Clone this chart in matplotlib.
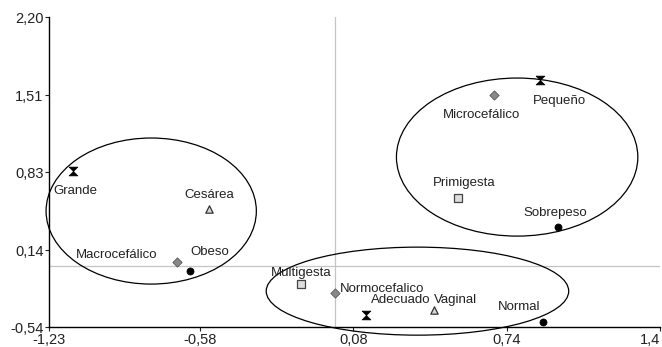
import matplotlib.pyplot as plt
from matplotlib.patches import Ellipse
from matplotlib.path import Path

plt.rcParams['font.family'] = ['Liberation Sans', 'DejaVu Sans']

# categories and coordinates (dimension 1, dimension 2)
labels = ['Grande', 'Cesárea', 'Macrocefálico', 'Obeso', 'Multigesta', 'Normocefalico',
          'Adecuado', 'Vaginal', 'Normal', 'Microcefálico', 'Pequeño', 'Primigesta', 'Sobrepeso']
dim1 = [-1.127, -0.540, -0.678, -0.622, -0.144, 0.003, 0.136, 0.429, 0.895, 0.684, 0.882, 0.529, 0.960]
dim2 = [0.838, 0.502, 0.034, -0.046, -0.161, -0.240, -0.435, -0.391, -0.497, 1.510, 1.643, 0.600, 0.343]
kind = ['peso', 'parto', 'cef', 'imc', 'gesta', 'cef', 'peso', 'parto', 'imc', 'cef', 'peso', 'gesta', 'imc']

xticks = [-1.23, -0.58, 0.08, 0.74, 1.4]
xticklabels = ['-1,23', '-0,58', '0,08', '0,74', '1,4']
yticks = [-0.54, 0.14, 0.83, 1.51, 2.20]
yticklabels = ['-0,54', '0,14', '0,83', '1,51', '2,20']

# groups: center x, center y, width, height
groups_cx = [-0.790, 0.785, 0.356]
groups_cy = [0.485, 0.962, -0.223]
groups_w = [0.905, 1.039, 1.302]
groups_h = [1.291, 1.397, 0.778]

hourglass = Path([(-1, 1), (1, 1), (-1, -1), (1, -1), (-1, 1)])
styles = {
    'peso': dict(marker=hourglass, s=40, c='black', edgecolors='black', linewidths=0.5),
    'parto': dict(marker='^', s=28, c='#d8d8d8', edgecolors='#333333', linewidths=0.9),
    'cef': dict(marker='D', s=22, c='#888888', edgecolors='#555555', linewidths=0.6),
    'imc': dict(marker='o', s=26, c='black', edgecolors='black', linewidths=0.5),
    'gesta': dict(marker='s', s=28, c='#dddddd', edgecolors='#444444', linewidths=0.9),
}

# label offsets in points and alignment
offsets = {
    'Grande': (-14, -14, 'left'), 'Cesárea': (0, 10, 'center'), 'Macrocefálico': (-14, 5, 'right'),
    'Obeso': (0, 14, 'left'), 'Multigesta': (0, 8, 'center'), 'Normocefalico': (3, 3, 'left'),
    'Adecuado': (3, 11, 'left'), 'Vaginal': (0, 7, 'left'), 'Normal': (-2, 11, 'right'),
    'Microcefálico': (-9, -14, 'center'), 'Pequeño': (-5, -15, 'left'), 'Primigesta': (5, 11, 'center'),
    'Sobrepeso': (-2, 10, 'center'),
}

fig = plt.figure(figsize=(6.62, 3.47), dpi=100)
ax = fig.add_axes([0.074, 0.0576, 0.923, 0.8934])
ax.set_xlim(-1.23, 1.4)
ax.set_ylim(-0.54, 2.20)

ax.axhline(0, color='#c4c4c4', lw=0.9, zorder=1)
ax.axvline(0, color='#c4c4c4', lw=0.9, zorder=1)

for cx, cy, w, h in zip(groups_cx, groups_cy, groups_w, groups_h):
    ax.add_patch(Ellipse((cx, cy), w, h, fill=False, edgecolor='black', lw=0.9, clip_on=False, zorder=2))

for k in styles:
    xs = [x for x, kk in zip(dim1, kind) if kk == k]
    ys = [y for y, kk in zip(dim2, kind) if kk == k]
    ax.scatter(xs, ys, zorder=3, clip_on=False, **styles[k])

for lab, x, y in zip(labels, dim1, dim2):
    dx, dy, ha = offsets[lab]
    ax.annotate(lab, (x, y), xytext=(dx, dy), textcoords='offset points', ha=ha, va='center',
                fontsize=9.5, color='#222222')

ax.spines['top'].set_visible(False)
ax.spines['right'].set_visible(False)
ax.spines['left'].set_linewidth(1.0)
ax.spines['bottom'].set_linewidth(1.0)
ax.set_xticks(xticks)
ax.set_xticklabels(xticklabels)
ax.set_yticks(yticks)
ax.set_yticklabels(yticklabels)
ax.tick_params(length=3, width=0.8, labelsize=10.5, pad=1, colors='#222222')
# last x label sits at the figure edge
ax.get_xticklabels()[-1].set_horizontalalignment('right')

fig.savefig('out.png', dpi=100)
